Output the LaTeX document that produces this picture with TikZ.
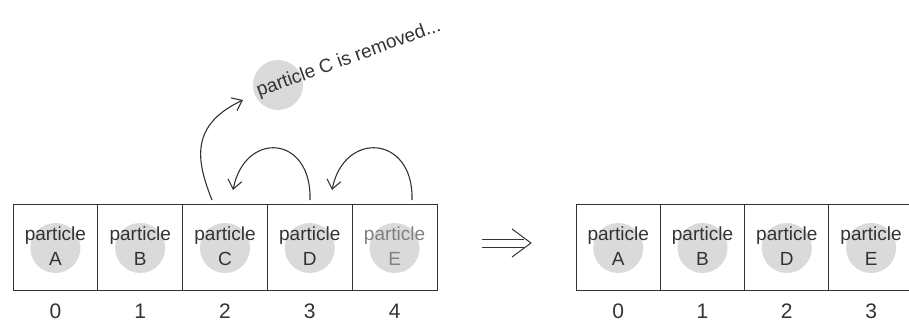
\documentclass[tikz,border=0pt]{standalone}
\usepackage{fontspec}
\setmainfont{Liberation Sans}
\usetikzlibrary{arrows.meta}
\definecolor{ink}{HTML}{333333}
\definecolor{dot}{HTML}{DADADA}
\begin{document}
\begin{tikzpicture}[x=1pt,y=-1pt,
  cellbox/.style={draw=ink, line width=1pt, minimum width=84.8pt, minimum height=86pt, inner sep=0pt},
  blob/.style={circle, fill=dot, minimum size=50pt, inner sep=0pt},
  word/.style={text=ink, font=\fontsize{19}{19}\selectfont, inner sep=0pt},
  idx/.style={text=ink, font=\fontsize{21}{21}\selectfont, inner sep=0pt},
  curl/.style={draw=ink, line width=1.1pt, -{Straight Barb[length=9pt,width=14pt]}}
]
\useasboundingbox (0,0) rectangle (909,323);
\clip (0,0) rectangle (909,323);
\fill[white] (0,0) rectangle (909,323);

% left array
\foreach \i/\L/\c in {0/A/ink,1/B/ink,2/C/ink,3/D/ink,4/E/gray} {
  \node[cellbox] (L\i) at ({55.4+84.8*\i},247) {};
  \node[blob] (LB\i) at ({55.4+84.8*\i},248) {};
  \node[word, text=\c, anchor=base] (LW\i) at ({55.4+84.8*\i},240) {particle};
  \node[word, text=\c, anchor=base] (LL\i) at ({55.4+84.8*\i},265) {\L};
  \node[idx, anchor=base] (LI\i) at ({55.4+84.8*\i},318) {\i};
}

% right array
\foreach \i/\L in {0/A,1/B,2/D,3/E} {
  \node[cellbox, minimum width=84.3pt] (R\i) at ({618.2+84.3*\i},247) {};
  \node[blob] (RB\i) at ({618.2+84.3*\i},248) {};
  \node[word, anchor=base] (RW\i) at ({618.2+84.3*\i},240) {particle};
  \node[word, anchor=base] (RL\i) at ({618.2+84.3*\i},265) {\L};
  \node[idx, anchor=base] (RI\i) at ({618.2+84.3*\i},318) {\i};
}

% removed particle
\node[blob] (top) at (278,85) {};
\node[word, anchor=base west, rotate=20] (msg) at (259,97) {particle C is removed...};

% arrows
\coordinate (s1) at (212,200);
\coordinate (t1) at (243,100);
\coordinate (s2) at (310,200);
\coordinate (t2) at (233,190);
\coordinate (s3) at (412,200);
\coordinate (t3) at (332,190);
\draw[curl] (s1) .. controls (196,160) and (190,125) .. (t1);
\draw[curl] (s2) .. controls (312,135) and (245,130) .. (t2);
\draw[curl] (s3) .. controls (414,135) and (344,130) .. (t3);

% implies arrow
\coordinate (i1) at (482,239);
\coordinate (i2) at (524,239);
\coordinate (i3) at (482,247);
\coordinate (i4) at (524,247);
\coordinate (h1) at (512,229);
\coordinate (h2) at (531,243);
\coordinate (h3) at (512,257);
\draw[ink, line width=1pt] (i1) -- (i2) (i3) -- (i4);
\draw[ink, line width=1pt, line join=round] (h1) -- (h2) -- (h3);
\end{tikzpicture}
\end{document}
